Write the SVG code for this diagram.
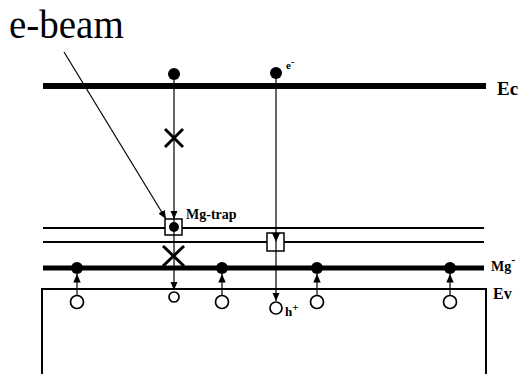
<svg xmlns="http://www.w3.org/2000/svg" width="520" height="374" viewBox="0 0 520 374">
<style>
.lbl{font-family:"Liberation Serif","Times New Roman",serif;fill:#000}
.b{font-weight:bold}
.band{stroke:#000;fill:none}
.dot{fill:#000}
.hole{fill:#fff;stroke:#000;stroke-width:1.7}
.arr{stroke:#000;stroke-width:1.2;fill:none}
.x{stroke:#000;stroke-width:3;fill:none}
.box{fill:#fff;stroke:#000;stroke-width:1.5}
</style>
<defs>
<marker id="ah" markerUnits="userSpaceOnUse" markerWidth="9" markerHeight="8" refX="8.5" refY="4" orient="auto">
<path d="M0,0.3 L8.5,4 L0,7.7 z" fill="#000"/>
</marker>
</defs>
<rect width="520" height="374" fill="#fff"/>
<g id="bands">
<line class="band" x1="43" y1="86" x2="486" y2="86" stroke-width="6"/>
<line class="band" x1="43" y1="228" x2="484" y2="228" stroke-width="2"/>
<line class="band" x1="43" y1="242" x2="484" y2="242" stroke-width="2"/>
<line class="band" x1="43" y1="268" x2="484" y2="268" stroke-width="5"/>
<rect class="band" x="42" y="289" width="444" height="100" stroke-width="2"/>
</g>
<g id="labels">
<text class="lbl" x="9" y="38" font-size="39">e-beam</text>
<text class="lbl b" x="497" y="95" font-size="19">Ec</text>
<text class="lbl b" x="491" y="271" font-size="14">Mg<tspan font-size="12" dy="-7">-</tspan></text>
<text class="lbl b" x="493" y="299" font-size="16">Ev</text>
<text class="lbl b" x="186" y="219" font-size="14">Mg-trap</text>
<text class="lbl b" x="286" y="69" font-size="11">e<tspan dy="-4" font-size="10">-</tspan></text>
<text class="lbl b" x="285" y="316" font-size="13">h<tspan dy="-5" font-size="11">+</tspan></text>
</g>
<g id="connectors">
<line class="arr" x1="64" y1="52" x2="166" y2="219" marker-end="url(#ah)"/>
<line class="arr" x1="174" y1="76" x2="174" y2="219" marker-end="url(#ah)"/>
<line class="arr" x1="174" y1="235" x2="174" y2="290" marker-end="url(#ah)"/>
<line class="arr" x1="276" y1="76" x2="276" y2="301" marker-end="url(#ah)"/>
<line class="arr" x1="77" y1="296" x2="77" y2="274" marker-end="url(#ah)"/>
<line class="arr" x1="222" y1="296" x2="222" y2="274" marker-end="url(#ah)"/>
<line class="arr" x1="317" y1="296" x2="317" y2="274" marker-end="url(#ah)"/>
<line class="arr" x1="450" y1="296" x2="450" y2="274" marker-end="url(#ah)"/>
</g>
<g id="column1">
<circle class="dot" cx="174" cy="74" r="6"/>
<path class="x" d="M165,129 L183,147 M183,129 L165,147"/>
<rect class="box" x="165" y="219" width="17" height="16"/>
<circle class="dot" cx="174" cy="227" r="5"/>
<line class="arr" x1="174" y1="219" x2="174" y2="235"/>
<path class="x" d="M163,246 L184,266 M184,246 L163,266"/>
<circle class="hole" cx="174" cy="297" r="5"/>
</g>
<g id="column2">
<circle class="dot" cx="276" cy="73" r="6"/>
<rect class="box" x="267" y="233" width="17" height="18"/>
<line class="arr" x1="276" y1="233" x2="276" y2="251"/>
<path d="M272,233 L280,233 L276,242 z" fill="#000"/>
<circle class="hole" cx="276" cy="308" r="6"/>
</g>
<g id="mg1"><circle class="dot" cx="77" cy="268" r="6"/><circle class="hole" cx="77" cy="302" r="6.5"/></g>
<g id="mg2"><circle class="dot" cx="222" cy="268" r="6"/><circle class="hole" cx="222" cy="302" r="6.5"/></g>
<g id="mg3"><circle class="dot" cx="317" cy="268" r="6"/><circle class="hole" cx="317" cy="302" r="6.5"/></g>
<g id="mg4"><circle class="dot" cx="450" cy="268" r="6"/><circle class="hole" cx="450" cy="302" r="6.5"/></g>
</svg>
